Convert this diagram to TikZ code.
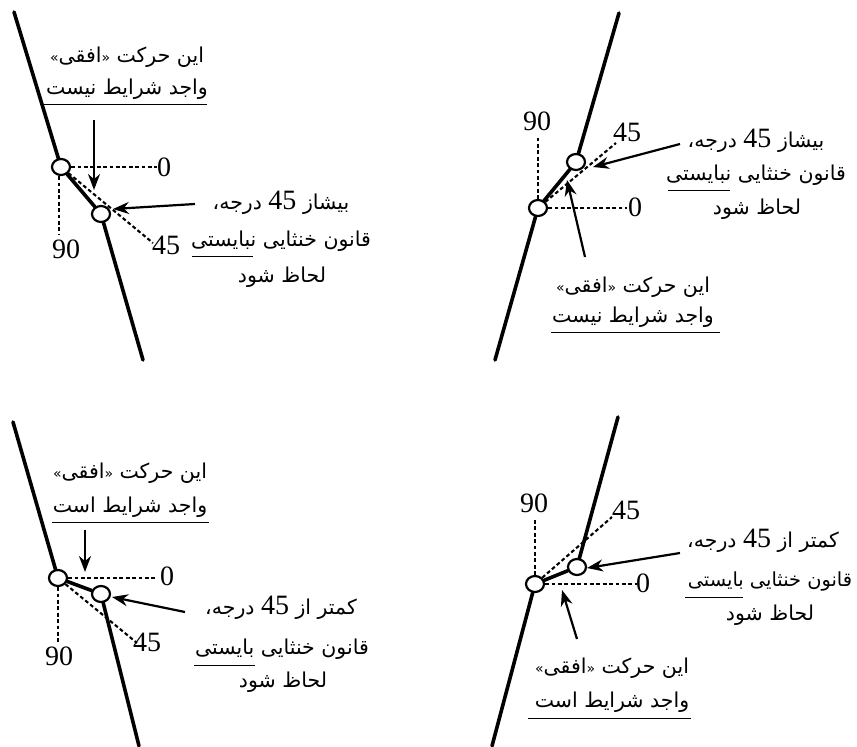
\documentclass[tikz,border=0pt]{standalone}
\usepackage{fontspec}
\usetikzlibrary{arrows.meta,shapes.geometric}
\setmainfont{Liberation Serif}
\newfontfamily\arabicfont[Script=Arabic]{DejaVu Sans}
\TeXXeTstate=1
\newcommand\artxt[1]{{\arabicfont\beginR #1\endR}}
\newcommand\nm{\beginL{\rmfamily\fontsize{28}{28}\selectfont 45}\endL}
\newcommand\gl[1]{{\fontsize{14}{14}\selectfont #1}}
\tikzset{
  wall/.style={line width=3.6pt,line cap=round},
  guide/.style={line width=2.1pt,dash pattern=on 3.8pt off 2.6pt},
  pointer/.style={line width=2.2pt,-{Stealth[length=16pt,width=12pt]}},
  rule/.style={line width=1pt},
  joint/.style={ellipse,draw,fill=white,line width=2.2pt,minimum width=18pt,minimum height=16pt,inner sep=0pt},
  numlab/.style={inner sep=0pt,font=\fontsize{28}{28}\selectfont},
  say/.style={inner sep=0pt,font=\fontsize{20.5}{20.5}\selectfont},
  saytight/.style={inner sep=0pt,font=\fontsize{19.4}{19.4}\selectfont},
}
\begin{document}
\begin{tikzpicture}[x=1pt,y=-1pt]
\useasboundingbox (0,0) rectangle (857,747);

% --- top left ---
\node[joint] (ac1) at (61,167) {};
\node[joint] (ac2) at (101,214) {};
\coordinate (atop) at (14,12);
\coordinate (abot) at (143,360);
\coordinate (azero) at (157,167);
\coordinate (aninety) at (59,235);
\coordinate (afive) at (153,243);
\coordinate (apa) at (94,120);
\coordinate (apat) at (94,190);
\coordinate (apb) at (195,204);
\coordinate (apbt) at (113,209);
\coordinate (aua) at (44,104);
\coordinate (aub) at (207,104);
\coordinate (ava) at (192,256);
\coordinate (avb) at (253,256);
\draw[wall] (atop) -- (ac1);
\draw[wall] (ac1) -- (ac2);
\draw[wall] (ac2) -- (abot);
\draw[guide] (ac1) -- (azero);
\draw[guide] (ac1.south -| aninety) -- (aninety);
\draw[guide] (ac1) -- (afive);
\draw[pointer] (apa) -- (apat);
\draw[pointer] (apb) -- (apbt);
\draw[rule] (aua) -- (aub);
\draw[rule] (ava) -- (avb);
\node[numlab] (a0) at (164,167) {0};
\node[numlab] (a90) at (66,249) {90};
\node[numlab] (a45) at (166,245) {45};
\node[say] (at1) at (127,57) {\artxt{این حرکت \gl{«}افقی\gl{»}}};
\node[say] (at2) at (127,89) {\artxt{واجد شرایط نیست}};
\node[say] (at3) at (281,203) {\artxt{بیشاز \nm\ درجه،}};
\node[say] (at4) at (281,241) {\artxt{قانون خنثایی نبایستی}};
\node[say] (at5) at (282,277) {\artxt{لحاظ شود}};

% --- top right ---
\node[joint] (bc2) at (576,162) {};
\node[joint] (bc1) at (538,208) {};
\coordinate (btop) at (619,13);
\coordinate (bbot) at (495,360);
\coordinate (bzero) at (627,208);
\coordinate (bninety) at (538,137);
\coordinate (bfive) at (616,143);
\coordinate (bpa) at (680,144);
\coordinate (bpat) at (593,167);
\coordinate (bpb) at (585,257);
\coordinate (bpbt) at (567,180);
\coordinate (bua) at (551,332);
\coordinate (bub) at (720,332);
\coordinate (bva) at (668,190);
\coordinate (bvb) at (730,190);
\draw[wall] (btop) -- (bc2);
\draw[wall] (bc2) -- (bc1);
\draw[wall] (bc1) -- (bbot);
\draw[guide] (bc1) -- (bzero);
\draw[guide] (bc1) -- (bninety);
\draw[guide] (bc1) -- (bfive);
\draw[pointer] (bpa) -- (bpat);
\draw[pointer] (bpb) -- (bpbt);
\draw[rule] (bua) -- (bub);
\draw[rule] (bva) -- (bvb);
\node[numlab] (b0) at (635,207) {0};
\node[numlab] (b90) at (537,121) {90};
\node[numlab] (b45) at (627,132) {45};
\node[say] (bt1) at (633,287) {\artxt{این حرکت \gl{«}افقی\gl{»}}};
\node[say] (bt2) at (633,317) {\artxt{واجد شرایط نیست}};
\node[say] (bt3) at (756,141) {\artxt{بیشاز \nm\ درجه،}};
\node[say] (bt4) at (756,175) {\artxt{قانون خنثایی نبایستی}};
\node[say] (bt5) at (757,209) {\artxt{لحاظ شود}};

% --- bottom left ---
\node[joint] (cc1) at (58,578) {};
\node[joint] (cc2) at (101,594) {};
\coordinate (ctop) at (13,422);
\coordinate (cbot) at (139,746);
\coordinate (czero) at (157,578);
\coordinate (cninety) at (58,642);
\coordinate (cfive) at (137,643);
\coordinate (cpa) at (85,530);
\coordinate (cpat) at (85,572);
\coordinate (cpb) at (185,612);
\coordinate (cpbt) at (112,597);
\coordinate (cua) at (52,522);
\coordinate (cub) at (209,522);
\coordinate (cva) at (194,665);
\coordinate (cvb) at (255,665);
\draw[wall] (ctop) -- (cc1);
\draw[wall] (cc1) -- (cc2);
\draw[wall] (cc2) -- (cbot);
\draw[guide] (cc1) -- (czero);
\draw[guide] (cc1) -- (cninety);
\draw[guide] (cc1) -- (cfive);
\draw[pointer] (cpa) -- (cpat);
\draw[pointer] (cpb) -- (cpbt);
\draw[rule] (cua) -- (cub);
\draw[rule] (cva) -- (cvb);
\node[numlab] (c0) at (167,576) {0};
\node[numlab] (c90) at (59,656) {90};
\node[numlab] (c45) at (147,642) {45};
\node[say] (ct1) at (130,473) {\artxt{این حرکت \gl{«}افقی\gl{»}}};
\node[say] (ct2) at (130,507) {\artxt{واجد شرایط است}};
\node[say] (ct3) at (281,608) {\artxt{کمتر از \nm\ درجه،}};
\node[say] (ct4) at (282,649) {\artxt{قانون خنثایی بایستی}};
\node[say] (ct5) at (283,682) {\artxt{لحاظ شود}};

% --- bottom right ---
\node[joint] (dc2) at (577,567) {};
\node[joint] (dc1) at (535,584) {};
\coordinate (dtop) at (618,417);
\coordinate (dbot) at (492,746);
\coordinate (dzero) at (637,584);
\coordinate (dninety) at (535,520);
\coordinate (dfive) at (612,517);
\coordinate (dpa) at (680,553);
\coordinate (dpat) at (587,568);
\coordinate (dpb) at (577,639);
\coordinate (dpbt) at (562,590);
\coordinate (dua) at (528,718);
\coordinate (dub) at (691,718);
\coordinate (dva) at (685,597);
\coordinate (dvb) at (743,597);
\draw[wall] (dtop) -- (dc2);
\draw[wall] (dc2) -- (dc1);
\draw[wall] (dc1) -- (dbot);
\draw[guide] (dc1) -- (dzero);
\draw[guide] (dc1) -- (dninety);
\draw[guide] (dc1) -- (dfive);
\draw[pointer] (dpa) -- (dpat);
\draw[pointer] (dpb) -- (dpbt);
\draw[rule] (dua) -- (dub);
\draw[rule] (dva) -- (dvb);
\node[numlab] (d0) at (643,583) {0};
\node[numlab] (d90) at (534,503) {90};
\node[numlab] (d45) at (626,510) {45};
\node[say] (dt1) at (612,668) {\artxt{این حرکت \gl{«}افقی\gl{»}}};
\node[say] (dt2) at (612,702) {\artxt{واجد شرایط است}};
\node[say] (dt3) at (763,541) {\artxt{کمتر از \nm\ درجه،}};
\node[saytight] (dt4) at (770,581) {\artxt{قانون خنثایی بایستی}};
\node[say] (dt5) at (770,615) {\artxt{لحاظ شود}};
\end{tikzpicture}
\end{document}
